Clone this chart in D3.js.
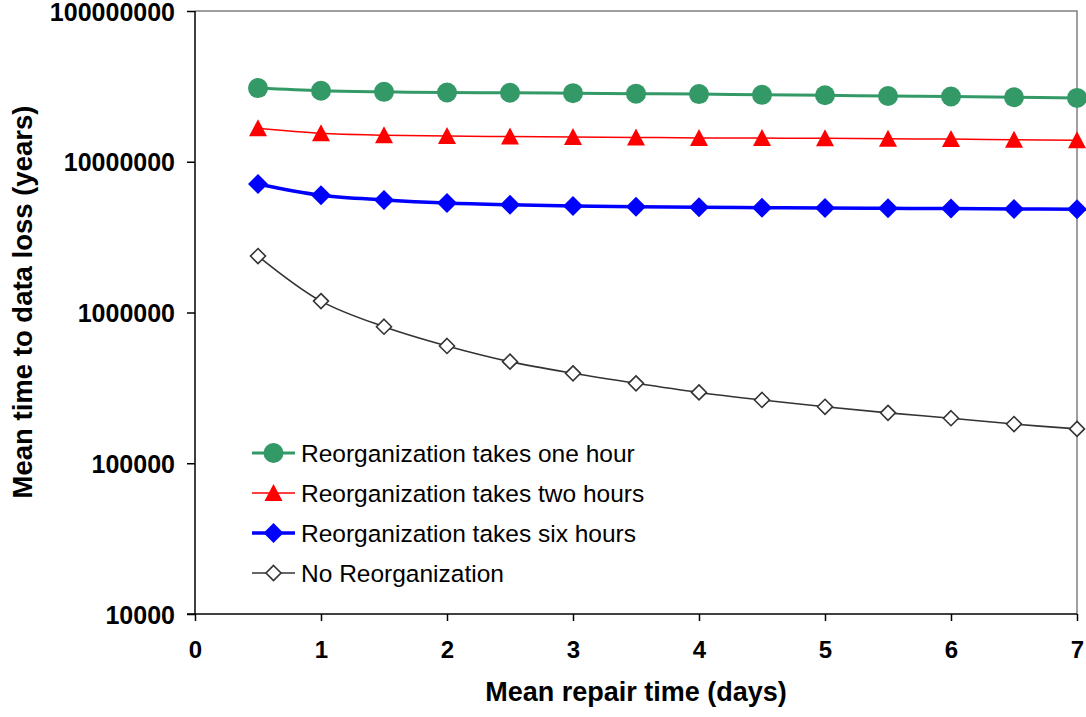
<!DOCTYPE html>
<html>
<head>
<meta charset="utf-8">
<script src="https://cdn.jsdelivr.net/npm/d3@7/dist/d3.min.js"></script>
<style>
  body { margin: 0; background: #fff; }
  svg { display: block; font-family: "Liberation Sans", Arial, sans-serif; }
</style>
</head>
<body>
<div id="chart"></div>
<script>
// repair time in days
const repairDays = [0.5, 1, 1.5, 2, 2.5, 3, 3.5, 4, 4.5, 5, 5.5, 6, 6.5, 7];

// mean time to data loss (years)
const oneHour = [3.08e7, 2.96e7, 2.91e7, 2.88e7, 2.87e7, 2.85e7, 2.83e7, 2.81e7, 2.78e7, 2.76e7, 2.73e7, 2.71e7, 2.68e7, 2.65e7];
const twoHours = [1.67e7, 1.545e7, 1.50e7, 1.48e7, 1.47e7, 1.46e7, 1.45e7, 1.44e7, 1.435e7, 1.43e7, 1.42e7, 1.415e7, 1.40e7, 1.39e7];
const sixHours = [7.12e6, 5.99e6, 5.58e6, 5.32e6, 5.18e6, 5.09e6, 5.03e6, 4.99e6, 4.96e6, 4.93e6, 4.91e6, 4.89e6, 4.86e6, 4.84e6];
const noReorg = [2.37e6, 1.19e6, 8.05e5, 6.0e5, 4.72e5, 3.95e5, 3.39e5, 2.95e5, 2.63e5, 2.37e5, 2.16e5, 1.99e5, 1.82e5, 1.69e5];

const xTicks = [0, 1, 2, 3, 4, 5, 6, 7];
const yTicks = [1e4, 1e5, 1e6, 1e7, 1e8];

const seriesNames = [
  "Reorganization takes one hour",
  "Reorganization takes two hours",
  "Reorganization takes six hours",
  "No Reorganization"
];

const series = [
  { name: seriesNames[0], values: oneHour, color: "#339966", width: 3, marker: "circle" },
  { name: seriesNames[1], values: twoHours, color: "#ff0000", width: 1.5, marker: "triangle" },
  { name: seriesNames[2], values: sixHours, color: "#0000ff", width: 3.5, marker: "diamond" },
  { name: seriesNames[3], values: noReorg, color: "#333333", width: 1.6, marker: "open" }
];

const width = 1086, height = 717;
const plot = { left: 195, right: 1077, top: 11, bottom: 614 };

const svg = d3.select("#chart").append("svg")
  .attr("width", width)
  .attr("height", height);

const x = d3.scaleLinear().domain([0, 7]).range([plot.left, plot.right]);
const y = d3.scaleLog().domain([1e4, 1e8]).range([plot.bottom, plot.top]);

// grey frame on top / right
svg.append("path")
  .attr("d", `M${plot.left},${plot.top}H${plot.right}V${plot.bottom}`)
  .attr("fill", "none")
  .attr("stroke", "#808080")
  .attr("stroke-width", 1.5);

// y axis
const yAxis = svg.append("g")
  .attr("transform", `translate(${plot.left},0)`)
  .call(d3.axisLeft(y).tickValues(yTicks).tickFormat(d3.format("d")).tickSize(8).tickPadding(12));
// x axis
const xAxis = svg.append("g")
  .attr("transform", `translate(0,${plot.bottom})`)
  .call(d3.axisBottom(x).tickValues(xTicks).tickFormat(d3.format("d")).tickSize(7).tickPadding(20));

[yAxis, xAxis].forEach(ax => {
  ax.select(".domain").attr("stroke", "#000").attr("stroke-width", 1.5);
  ax.selectAll(".tick line").attr("stroke", "#000").attr("stroke-width", 1.5);
  ax.selectAll(".tick text")
    .attr("fill", "#000")
    .style("font-weight", "bold");
});
yAxis.selectAll(".tick text").style("font-size", "25px").attr("dy", "0.36em");
xAxis.selectAll(".tick text").style("font-size", "24px");
yAxis.select(".domain").attr("d", `M0,${plot.bottom}V${plot.top}`);
xAxis.select(".domain").attr("d", `M${plot.left - 8},0H${plot.right}`);

// axis titles
svg.append("text")
  .attr("x", 636)
  .attr("y", 701)
  .attr("text-anchor", "middle")
  .style("font-size", "27px")
  .style("font-weight", "bold")
  .text("Mean repair time (days)");

svg.append("text")
  .attr("transform", "translate(32,302) rotate(-90)")
  .attr("text-anchor", "middle")
  .style("font-size", "27.5px")
  .style("font-weight", "bold")
  .text("Mean time to data loss (years)");

function drawMarker(g, type, color) {
  if (type === "circle") {
    g.append("circle").attr("r", 10).attr("fill", color);
  } else if (type === "triangle") {
    g.append("path").attr("d", "M0,-9L9,8L-9,8Z").attr("fill", color);
  } else if (type === "diamond") {
    g.append("path").attr("d", "M0,-10L10,0L0,10L-10,0Z").attr("fill", color);
  } else {
    g.append("path").attr("d", "M0,-7.5L7.5,0L0,7.5L-7.5,0Z")
      .attr("fill", "#fff").attr("stroke", color).attr("stroke-width", 1.6);
  }
}

const line = d3.line()
  .x((d, i) => x(repairDays[i]))
  .y(d => y(d))
  .curve(d3.curveCatmullRom.alpha(0.5));

series.forEach(s => {
  const g = svg.append("g");
  g.append("path")
    .datum(s.values)
    .attr("d", line)
    .attr("fill", "none")
    .attr("stroke", s.color)
    .attr("stroke-width", s.width);
  s.values.forEach((v, i) => {
    const m = g.append("g").attr("transform", `translate(${x(repairDays[i])},${y(v)})`);
    drawMarker(m, s.marker, s.color);
  });
});

// legend
const legend = svg.append("g").attr("transform", "translate(252,453)");
series.forEach((s, i) => {
  const row = legend.append("g").attr("transform", `translate(0,${i * 40})`);
  row.append("line")
    .attr("x1", 0).attr("x2", 43)
    .attr("stroke", s.color)
    .attr("stroke-width", s.width);
  const m = row.append("g").attr("transform", "translate(21.5,0)");
  drawMarker(m, s.marker, s.color);
  row.append("text")
    .attr("x", 49)
    .attr("dy", "0.36em")
    .style("font-size", "24.5px")
    .attr("fill", "#000")
    .text(s.name);
});
</script>
</body>
</html>
